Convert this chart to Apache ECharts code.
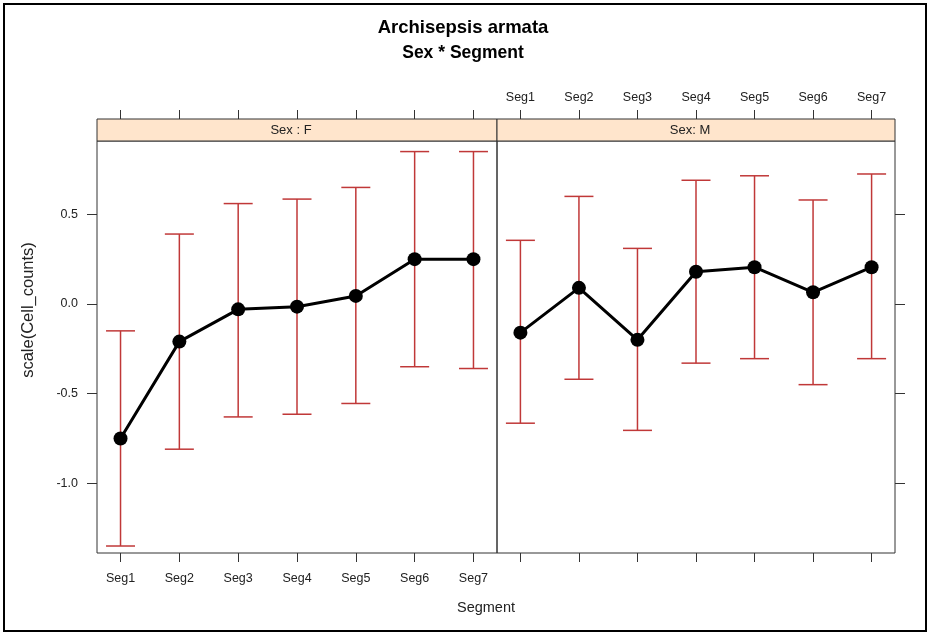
<!DOCTYPE html>
<html>
<head>
<meta charset="utf-8">
<script src="https://cdn.jsdelivr.net/npm/echarts@6/dist/echarts.min.js"></script>
<style>
  html, body { margin: 0; padding: 0; background: #fff; }
  #chart { width: 930px; height: 635px; }
</style>
</head>
<body>
<div id="chart"></div>
<script>
// Categories and tick labels
const segments = ['Seg1', 'Seg2', 'Seg3', 'Seg4', 'Seg5', 'Seg6', 'Seg7'];
const yTicks = [-1.0, -0.5, 0.0, 0.5];
const panelLabels = ['Sex : F', 'Sex: M'];

// Sex F: mean of scaled cell counts with interval bounds
const femaleMean  = [-0.75, -0.21, -0.03, -0.015, 0.045, 0.25, 0.25];
const femaleLower = [-1.35, -0.81, -0.63, -0.615, -0.555, -0.35, -0.36];
const femaleUpper = [-0.15, 0.39, 0.56, 0.585, 0.65, 0.85, 0.85];

// Sex M
const maleMean  = [-0.16, 0.09, -0.20, 0.18, 0.205, 0.065, 0.205];
const maleLower = [-0.665, -0.42, -0.705, -0.33, -0.305, -0.45, -0.305];
const maleUpper = [0.355, 0.60, 0.31, 0.69, 0.715, 0.58, 0.725];

// Layout of the two lattice panels
const PANEL_TOP = 141, PANEL_H = 412, STRIP_H = 22;
const F_LEFT = 97, F_W = 400, M_LEFT = 497, M_W = 398;
const FONT = '"Liberation Sans", Arial, sans-serif';
const TEXT = '#222';
const BAR = '#c03838';

const xPos = segments.map((_, i) => i + 1);
const Y_MIN = -1.389, Y_MAX = 0.909;

function pts(mean) { return mean.map((v, i) => [xPos[i], v]); }
function bars(lo, hi) { return lo.map((v, i) => [xPos[i], v, hi[i]]); }

function xAxis(grid, position, labels, offset) {
  return {
    type: 'value', gridIndex: grid, position: position, offset: offset || 0,
    min: 0.6, max: 7.4,
    axisLine: { show: false, onZero: false },
    splitLine: { show: false },
    axisTick: { show: true, length: 9, customValues: xPos, lineStyle: { color: '#333', width: 1 } },
    axisLabel: {
      show: labels, customValues: xPos, margin: position === 'bottom' ? 19 : 15,
      formatter: v => segments[Math.round(v) - 1] || '',
      color: TEXT, fontFamily: FONT, fontSize: 12.5
    }
  };
}

function yAxis(grid, position, labels) {
  return {
    type: 'value', gridIndex: grid, position: position,
    min: Y_MIN, max: Y_MAX,
    axisLine: { show: false, onZero: false },
    splitLine: { show: false },
    axisTick: { show: true, length: 10, customValues: yTicks, lineStyle: { color: '#333', width: 1 } },
    axisLabel: {
      show: labels, customValues: yTicks, margin: 19,
      formatter: v => v.toFixed(1),
      color: TEXT, fontFamily: FONT, fontSize: 12.5
    }
  };
}

function errorBars(xi, yi, lo, hi) {
  return {
    type: 'custom', xAxisIndex: xi, yAxisIndex: yi, clip: false, z: 2,
    data: bars(lo, hi),
    renderItem: function (params, api) {
      const x = api.value(0);
      const a = api.coord([x, api.value(1)]);
      const b = api.coord([x, api.value(2)]);
      const hw = 14.5;
      const st = { stroke: BAR, lineWidth: 1.5 };
      return {
        type: 'group',
        children: [
          { type: 'line', shape: { x1: a[0], y1: a[1], x2: b[0], y2: b[1] }, style: st },
          { type: 'line', shape: { x1: a[0] - hw, y1: a[1], x2: a[0] + hw, y2: a[1] }, style: st },
          { type: 'line', shape: { x1: b[0] - hw, y1: b[1], x2: b[0] + hw, y2: b[1] }, style: st }
        ]
      };
    }
  };
}

function meanLine(xi, yi, mean) {
  return {
    type: 'line', xAxisIndex: xi, yAxisIndex: yi, z: 3,
    data: pts(mean),
    symbol: 'circle', symbolSize: 14,
    itemStyle: { color: '#000' },
    lineStyle: { color: '#000', width: 3 },
    animation: false
  };
}

function strip(left, width, label) {
  return [
    {
      type: 'rect', z: 10,
      shape: { x: left, y: PANEL_TOP - STRIP_H, width: width, height: STRIP_H },
      style: { fill: '#ffe5cc', stroke: '#333', lineWidth: 1 }
    },
    {
      type: 'text', z: 11, x: left + width / 2 - 6, y: PANEL_TOP - STRIP_H / 2,
      style: { text: label, fill: TEXT, font: '13px ' + FONT, textAlign: 'center', textVerticalAlign: 'middle' }
    }
  ];
}

const pageCenter = 463;

const option = {
  backgroundColor: '#fff',
  animation: false,
  grid: [
    { left: F_LEFT, top: PANEL_TOP, width: F_W, height: PANEL_H, show: true, borderColor: '#333', borderWidth: 1, backgroundColor: 'transparent' },
    { left: M_LEFT, top: PANEL_TOP, width: M_W, height: PANEL_H, show: true, borderColor: '#333', borderWidth: 1, backgroundColor: 'transparent' }
  ],
  xAxis: [
    xAxis(0, 'bottom', true),
    xAxis(0, 'top', false, STRIP_H),
    xAxis(1, 'bottom', false),
    xAxis(1, 'top', true, STRIP_H)
  ],
  yAxis: [
    yAxis(0, 'left', true),
    yAxis(1, 'right', false)
  ],
  series: [
    errorBars(0, 0, femaleLower, femaleUpper),
    meanLine(0, 0, femaleMean),
    errorBars(2, 1, maleLower, maleUpper),
    meanLine(2, 1, maleMean)
  ],
  graphic: [
    {
      type: 'rect', z: 20,
      shape: { x: 4, y: 4, width: 922, height: 627 },
      style: { fill: null, stroke: '#000', lineWidth: 2 }
    },
    {
      type: 'text', x: pageCenter, y: 28,
      style: { text: 'Archisepsis armata', fill: '#000', font: 'bold 18.5px ' + FONT, textAlign: 'center', textVerticalAlign: 'middle' }
    },
    {
      type: 'text', x: pageCenter, y: 53,
      style: { text: 'Sex * Segment', fill: '#000', font: 'bold 17.5px ' + FONT, textAlign: 'center', textVerticalAlign: 'middle' }
    },
    {
      type: 'text', x: 486, y: 608,
      style: { text: 'Segment', fill: TEXT, font: '14.5px ' + FONT, textAlign: 'center', textVerticalAlign: 'middle' }
    },
    {
      type: 'text', x: 28, y: 310, rotation: Math.PI / 2,
      style: { text: 'scale(Cell_counts)', fill: TEXT, font: '16.5px ' + FONT, textAlign: 'center', textVerticalAlign: 'middle' }
    },
    ...strip(F_LEFT, F_W, panelLabels[0]),
    ...strip(M_LEFT, M_W, panelLabels[1])
  ]
};

const chart = echarts.init(document.getElementById('chart'), null, { renderer: 'canvas' });
chart.setOption(option);
</script>
</body>
</html>
